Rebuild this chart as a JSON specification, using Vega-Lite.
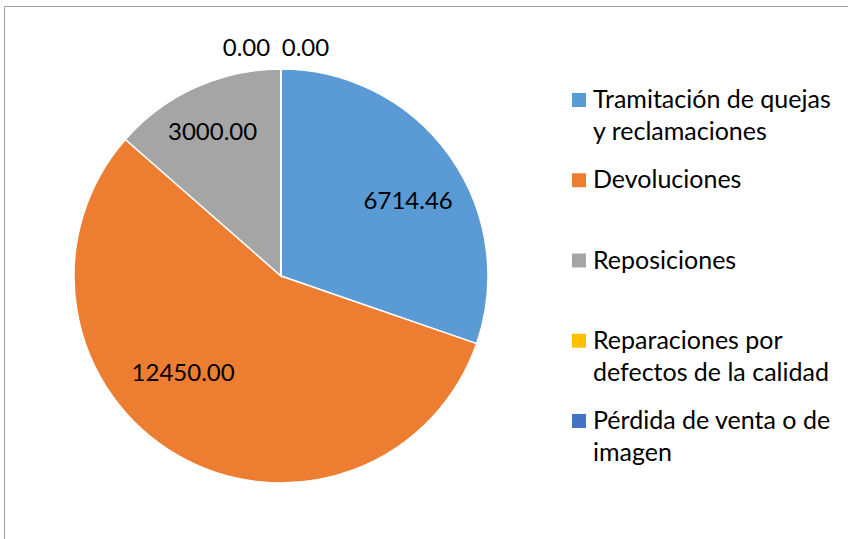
{
  "$schema": "https://vega.github.io/schema/vega-lite/v6.json",
  "width": 846,
  "height": 535,
  "padding": {"left": 4, "top": 6, "right": 0, "bottom": 0},
  "autosize": {"type": "none"},
  "background": "white",
  "config": {"view": {"stroke": "#A0A0A0", "strokeWidth": 1}, "font": "Lato"},
  "data": {
    "values": [
      {"category": "Tramitación de quejas y reclamaciones", "label": "Tramitación de quejas\ny reclamaciones", "value": 6714.46},
      {"category": "Devoluciones", "label": "Devoluciones", "value": 12450.00},
      {"category": "Reposiciones", "label": "Reposiciones", "value": 3000.00},
      {"category": "Reparaciones por defectos de la calidad", "label": "Reparaciones por\ndefectos de la calidad", "value": 0.00},
      {"category": "Pérdida de venta o de imagen", "label": "Pérdida de venta o de\nimagen", "value": 0.00}
    ]
  },
  "transform": [{"window": [{"op": "row_number", "as": "idx"}]}],
  "resolve": {"scale": {"y": "independent"}},
  "layer": [
    {
      "encoding": {
        "x": {"datum": 277, "type": "quantitative", "scale": {"domain": [0, 846], "nice": false, "zero": true}, "axis": null},
        "y": {"datum": 270, "type": "quantitative", "scale": {"domain": [0, 535], "nice": false, "reverse": true}, "axis": null},
        "theta": {"field": "value", "type": "quantitative", "stack": true},
        "order": {"field": "idx", "type": "quantitative"}
      },
      "layer": [
        {
          "mark": {"type": "arc", "outerRadius": 207, "stroke": "white", "strokeWidth": 1.5},
          "encoding": {
            "color": {
              "field": "category", "type": "nominal", "legend": null,
              "scale": {
                "domain": ["Tramitación de quejas y reclamaciones", "Devoluciones", "Reposiciones", "Reparaciones por defectos de la calidad", "Pérdida de venta o de imagen"],
                "range": ["#5B9BD5", "#ED7D31", "#A5A5A5", "#FFC000", "#4472C4"]
              }
            }
          }
        },
        {
          "mark": {"type": "text", "radius": 150, "fontSize": 24, "color": "black", "align": "center", "baseline": "middle", "dx": 5, "dy": 13.5},
          "encoding": {
            "detail": {"field": "category", "type": "nominal"},
            "text": {"condition": {"test": "datum.category === 'Tramitación de quejas y reclamaciones'", "field": "value", "type": "quantitative", "format": ".2f"}, "value": ""}
          }
        },
        {
          "mark": {"type": "text", "radius": 150, "fontSize": 24, "color": "black", "align": "center", "baseline": "middle", "dx": -22.5, "dy": -32},
          "encoding": {
            "detail": {"field": "category", "type": "nominal"},
            "text": {"condition": {"test": "datum.category === 'Devoluciones'", "field": "value", "type": "quantitative", "format": ".2f"}, "value": ""}
          }
        },
        {
          "mark": {"type": "text", "radius": 150, "fontSize": 24, "color": "black", "align": "center", "baseline": "middle", "dx": -6.5, "dy": -6},
          "encoding": {
            "detail": {"field": "category", "type": "nominal"},
            "text": {"condition": {"test": "datum.category === 'Reposiciones'", "field": "value", "type": "quantitative", "format": ".2f"}, "value": ""}
          }
        },
        {
          "mark": {"type": "text", "radius": 229, "fontSize": 24, "color": "black", "align": "center", "baseline": "middle", "dx": -34.5, "dy": 1.5},
          "encoding": {
            "detail": {"field": "category", "type": "nominal"},
            "text": {"condition": {"test": "datum.category === 'Reparaciones por defectos de la calidad'", "field": "value", "type": "quantitative", "format": ".2f"}, "value": ""}
          }
        },
        {
          "mark": {"type": "text", "radius": 229, "fontSize": 24, "color": "black", "align": "center", "baseline": "middle", "dx": 24.5, "dy": 1.5},
          "encoding": {
            "detail": {"field": "category", "type": "nominal"},
            "text": {"condition": {"test": "datum.category === 'Pérdida de venta o de imagen'", "field": "value", "type": "quantitative", "format": ".2f"}, "value": ""}
          }
        }
      ]
    },
    {
      "encoding": {
        "y": {"field": "category", "type": "nominal", "sort": null, "scale": {"type": "point", "range": [94, 415], "padding": 0}, "axis": null}
      },
      "layer": [
        {
          "mark": {"type": "square", "size": 196, "opacity": 1, "filled": true},
          "encoding": {
            "x": {"datum": 575, "type": "quantitative"},
            "color": {"field": "category", "type": "nominal", "legend": null}
          }
        },
        {
          "mark": {"type": "text", "fontSize": 25, "color": "black", "align": "left", "baseline": "alphabetic", "dy": 8, "lineBreak": "\n", "lineHeight": 32},
          "encoding": {
            "x": {"datum": 589, "type": "quantitative"},
            "text": {"field": "label", "type": "nominal"}
          }
        }
      ]
    }
  ]
}
